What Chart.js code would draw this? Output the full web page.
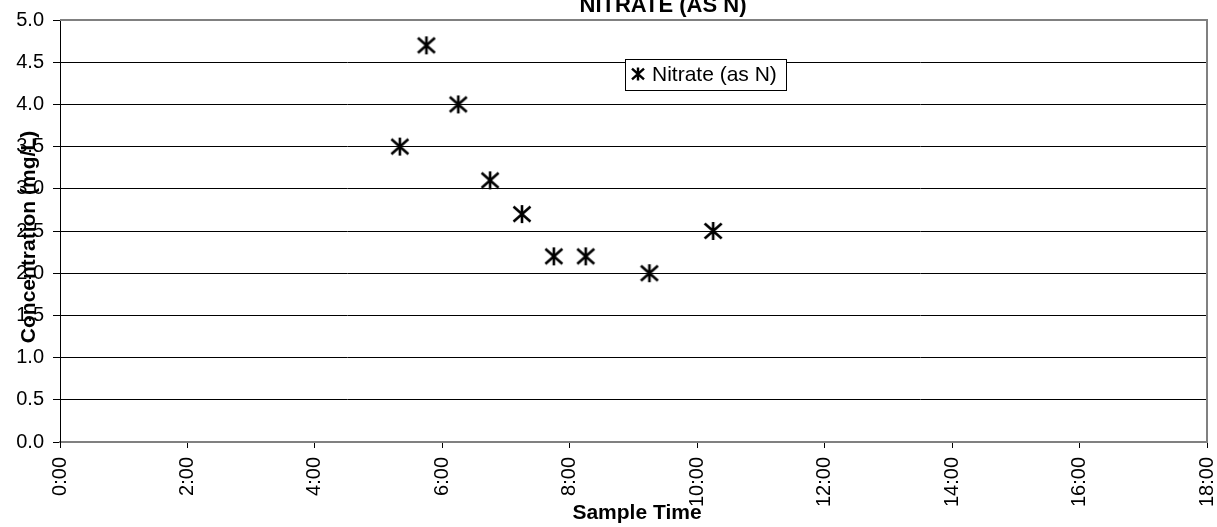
<!DOCTYPE html>
<html>
<head>
<meta charset="utf-8">
<title>Nitrate (as N)</title>
<script src="https://cdn.jsdelivr.net/npm/chart.js@4/dist/chart.umd.min.js"></script>
<style>
  html, body { margin: 0; padding: 0; background: #fff; }
  #wrap { width: 1217px; height: 527px; }
</style>
</head>
<body>
<div id="wrap"><canvas id="chart" width="1217" height="527"></canvas></div>
<script>
const $ = (id) => document.getElementById(id);

// --- data ---
const chartTitle = "NITRATE (AS N)";
const seriesName = "Nitrate (as N)";
const xTitle = "Sample Time";
const yTitle = "Concentration (mg/L)";

const sampleTimes = ["5:20", "5:45", "6:15", "6:45", "7:15", "7:45", "8:15", "9:15", "10:15"];
const nitrate = [3.5, 4.7, 4.0, 3.1, 2.7, 2.2, 2.2, 2.0, 2.5];

const xTicks = [0, 2, 4, 6, 8, 10, 12, 14, 16, 18];   // hours
const yTicks = [0, 0.5, 1, 1.5, 2, 2.5, 3, 3.5, 4, 4.5, 5];

const FONT = "'Liberation Sans', Arial, sans-serif";

function toHours(t) {
    const [h, m] = t.split(":").map(Number);
    return h + m / 60;
}

// excel style star: X plus vertical stroke
function drawStar(ctx, cx, cy, w, h, lw) {
    ctx.save();
    ctx.strokeStyle = "#000";
    ctx.lineWidth = lw;
    ctx.beginPath();
    ctx.moveTo(cx - w / 2, cy - h * 0.42);
    ctx.lineTo(cx + w / 2, cy + h * 0.42);
    ctx.moveTo(cx + w / 2, cy - h * 0.42);
    ctx.lineTo(cx - w / 2, cy + h * 0.42);
    ctx.moveTo(cx, cy - h / 2);
    ctx.lineTo(cx, cy + h / 2);
    ctx.stroke();
    ctx.restore();
}

function starCanvas(size) {
    const c = document.createElement("canvas");
    c.width = size + 2;
    c.height = size + 2;
    drawStar(c.getContext("2d"), c.width / 2, c.height / 2, size - 1, size, 2.6);
    return c;
}

const extras = {
    id: "extras",
    beforeDatasetsDraw(chart) {
        const { ctx, chartArea: a } = chart;
        ctx.save();
        ctx.strokeStyle = "#808080";
        ctx.lineWidth = 2;
        ctx.beginPath();
        ctx.moveTo(a.left, a.top);
        ctx.lineTo(a.right, a.top);
        ctx.lineTo(a.right, a.bottom);
        ctx.stroke();
        ctx.restore();
    },
    afterDraw(chart) {
        const { ctx } = chart;
        ctx.save();
        ctx.fillStyle = "#000";

        // title (cut at the top as in the original)
        ctx.font = "bold 22px " + FONT;
        ctx.textAlign = "center";
        ctx.textBaseline = "alphabetic";
        ctx.fillText(chartTitle, 663, 12);

        // x axis title
        ctx.font = "bold 21px " + FONT;
        ctx.fillText(xTitle, 637, 519);

        // y axis title, overlapping the tick labels
        ctx.save();
        ctx.translate(35, 237);
        ctx.rotate(-Math.PI / 2);
        ctx.font = "bold 21px " + FONT;
        ctx.fillText(yTitle, 0, 0);
        ctx.restore();

        // legend box
        ctx.fillStyle = "#fff";
        ctx.fillRect(625, 59, 161, 31);
        ctx.strokeStyle = "#000";
        ctx.lineWidth = 1;
        ctx.strokeRect(625.5, 59.5, 161, 31);
        drawStar(ctx, 638, 74, 12, 13, 2.4);
        ctx.fillStyle = "#000";
        ctx.font = "21px " + FONT;
        ctx.textAlign = "left";
        ctx.textBaseline = "middle";
        ctx.fillText(seriesName, 652, 75);
        ctx.restore();
    }
};

function initChart() {
    const ctx = $("chart").getContext("2d");
    return new Chart(ctx, {
        type: "scatter",
        data: {
            datasets: [{
                label: seriesName,
                data: sampleTimes.map((t, i) => ({ x: toHours(t), y: nitrate[i] })),
                pointStyle: starCanvas(18),
                pointRadius: 9,
                showLine: false
            }]
        },
        options: {
            responsive: false,
            animation: false,
            devicePixelRatio: 1,
            layout: { padding: { top: 20, right: 10, left: 0, bottom: 0 } },
            plugins: {
                legend: { display: false },
                title: { display: false },
                tooltip: { enabled: false }
            },
            scales: {
                x: {
                    type: "linear",
                    min: 0,
                    max: 18,
                    afterBuildTicks: (s) => { s.ticks = xTicks.map(v => ({ value: v })); },
                    afterFit: (s) => { s.height = 85; s.paddingLeft = 0; s.paddingRight = 0; },
                    ticks: {
                        minRotation: 90,
                        maxRotation: 90,
                        padding: 9,
                        color: "#000",
                        font: { family: FONT, size: 20 },
                        callback: (v) => v + ":00"
                    },
                    grid: { drawOnChartArea: false, drawTicks: true, tickLength: 6, color: "#000" },
                    border: { color: "#808080", width: 2 }
                },
                y: {
                    type: "linear",
                    min: 0,
                    max: 5,
                    afterBuildTicks: (s) => { s.ticks = yTicks.map(v => ({ value: v })); },
                    afterFit: (s) => { s.width = 60; s.paddingTop = 0; s.paddingBottom = 0; },
                    ticks: {
                        padding: 9,
                        color: "#000",
                        font: { family: FONT, size: 20 },
                        callback: (v) => Number(v).toFixed(1)
                    },
                    grid: {
                        tickLength: 7,
                        tickColor: "#000",
                        lineWidth: 1,
                        color: (c) => (c.tick && (c.tick.value === 5 || c.tick.value === 0)) ? "rgba(0,0,0,0)" : "#000"
                    },
                    border: { color: "#000", width: 1 }
                }
            }
        },
        plugins: [extras]
    });
}

window.addEventListener("DOMContentLoaded", () => {
    initChart();
});
</script>
</body>
</html>
